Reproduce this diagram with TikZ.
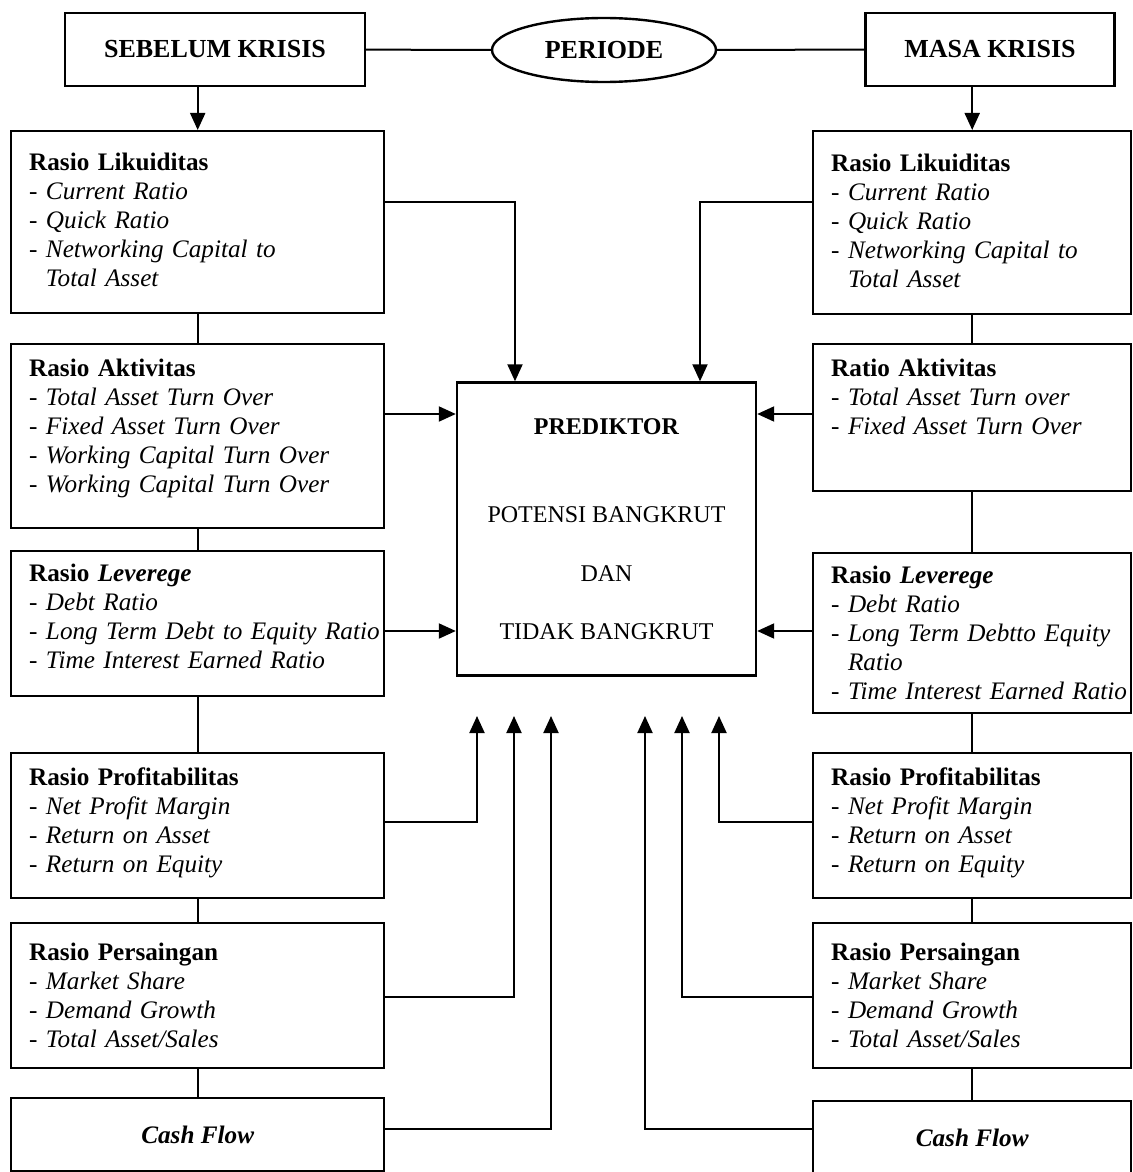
\documentclass[tikz,border=0pt,12pt]{standalone}
\usepackage{fontspec}
\setmainfont{Liberation Serif}
\usetikzlibrary{arrows.meta, positioning, shapes.geometric}
\newcommand{\itm}[1]{\mbox{- \textit{#1}}}
\newcommand{\lnj}[1]{\mbox{\phantom{- }\textit{#1}}}

\begin{document}
\begin{tikzpicture}[x=0.5pt, y=-0.5pt, line width=1pt,
    head/.style={draw, line width=1.2pt, rectangle, minimum height=36.5pt, font=\fontsize{13}{15}\selectfont\bfseries},
    peri/.style={draw, line width=1.2pt, ellipse, minimum width=112pt, minimum height=32pt, inner sep=0pt, font=\fontsize{13}{15}\selectfont\bfseries},
    ratio/.style={draw, line width=1.2pt, rectangle, anchor=north west, align=left, inner xsep=9pt, inner ysep=0pt, text height=16pt, text depth=#1, font=\fontsize{12.6}{14.5}\selectfont},
    kiri/.style={ratio=#1, text width=168.5pt},
    kanan/.style={ratio=#1, text width=141pt},
    cash/.style={draw, line width=1.2pt, rectangle, anchor=north west, minimum height=36.5pt, font=\fontsize{12.6}{14.5}\selectfont\bfseries\itshape},
    arrow/.style={-{Triangle[length=8.5pt, width=7.5pt]}}
]
\useasboundingbox (0,0) rectangle (1132,1172);
% 1. Periode
\node[head, minimum width=150pt] (sebl) at (215,49.5) {SEBELUM KRISIS};
\node[peri] (peri) at (604,50) {PERIODE};
\node[head, minimum width=124.5pt] (masa) at (990,49.5) {MASA KRISIS};
% 2. Left column (sebelum krisis)
\node[kiri=71.5pt, text height=19.5pt] (lLik) at (10,130) {\textbf{Rasio Likuiditas}\\ \itm{Current Ratio}\\ \itm{Quick Ratio}\\ \itm{Networking Capital to}\\ \lnj{Total Asset}};
\node[kiri=76pt] (lAkt) at (10,343) {\textbf{Rasio Aktivitas}\\ \itm{Total Asset Turn Over}\\ \itm{Fixed Asset Turn Over}\\ \itm{Working Capital Turn Over}\\ \itm{Working Capital Turn Over}};
\node[kiri=57.5pt, text height=15pt] (lLev) at (10,550) {\textbf{Rasio \textit{Leverege}}\\ \itm{Debt Ratio}\\ \itm{Long Term Debt to Equity Ratio}\\ \itm{Time Interest Earned Ratio}};
\node[kiri=56.5pt] (lPro) at (10,752) {\textbf{Rasio Profitabilitas}\\ \itm{Net Profit Margin}\\ \itm{Return on Asset}\\ \itm{Return on Equity}};
\node[kiri=54pt, text height=18.5pt] (lPer) at (10,922) {\textbf{Rasio Persaingan}\\ \itm{Market Share}\\ \itm{Demand Growth}\\ \itm{Total Asset/Sales}};
\node[cash, minimum width=186.5pt] (lCas) at (10,1097) {Cash Flow};
% 3. Right column (masa krisis)
\node[kanan=71.5pt, text height=20pt] (rLik) at (812,130) {\textbf{Rasio Likuiditas}\\ \itm{Current Ratio}\\ \itm{Quick Ratio}\\ \itm{Networking Capital to}\\ \lnj{Total Asset}};
\node[kanan=57.5pt] (rAkt) at (812,343) {\textbf{Ratio Aktivitas}\\ \itm{Total Asset Turn over}\\ \itm{Fixed Asset Turn Over}};
\node[kanan=65pt, text height=15pt] (rLev) at (812,552) {\textbf{Rasio \textit{Leverege}}\\ \itm{Debt Ratio}\\ \itm{Long Term Debtto Equity}\\ \lnj{Ratio}\\ \itm{Time Interest Earned Ratio}};
\node[kanan=56.5pt] (rPro) at (812,752) {\textbf{Rasio Profitabilitas}\\ \itm{Net Profit Margin}\\ \itm{Return on Asset}\\ \itm{Return on Equity}};
\node[kanan=54pt, text height=18.5pt] (rPer) at (812,922) {\textbf{Rasio Persaingan}\\ \itm{Market Share}\\ \itm{Demand Growth}\\ \itm{Total Asset/Sales}};
\node[cash, minimum width=159pt] (rCas) at (812,1100) {Cash Flow};
% 4. Prediktor
\node[draw, line width=1.2pt, rectangle, align=center, minimum width=149.5pt, minimum height=146.5pt] (pred) at (606.5,529) {\textbf{PREDIKTOR}\\[29.5pt] POTENSI BANGKRUT\\[15pt] DAN\\[14.5pt] TIDAK BANGKRUT};
% bends and arrow tips
\coordinate (jL1) at (515,202);
\coordinate (jR1) at (700,202);
\coordinate (yAkt) at (0,414);
\coordinate (yLev) at (0,631);
\coordinate (yPro) at (0,822);
\coordinate (yPer) at (0,997);
\coordinate (yCas) at (0,1129);
\coordinate (t1) at (477,716);
\coordinate (t2) at (514,716);
\coordinate (t3) at (551,716);
\coordinate (t4) at (645,716);
\coordinate (t5) at (682,716);
\coordinate (t6) at (719,716);
% --- Arrows / Connections ---
\draw (sebl) -- (peri);
\draw (peri) -- (masa);
\draw[arrow] (sebl.south -| lLik.north) -- (lLik.north);
\draw[arrow] (masa.south -| rLik.north) -- (rLik.north);
% columns
\draw (lLik) -- (lAkt);
\draw (lAkt) -- (lLev);
\draw (lLev) -- (lPro);
\draw (lPro) -- (lPer);
\draw (lPer) -- (lCas);
\draw (rLik) -- (rAkt);
\draw (rAkt) -- (rLev);
\draw (rLev) -- (rPro);
\draw (rPro) -- (rPer);
\draw (rPer) -- (rCas);
% into the predictor
\draw[arrow] (lLik.east |- jL1) -| (pred.north -| jL1);
\draw[arrow] (rLik.west |- jR1) -| (pred.north -| jR1);
\draw[arrow] (lAkt.east |- yAkt) -- (pred.west |- yAkt);
\draw[arrow] (rAkt.west |- yAkt) -- (pred.east |- yAkt);
\draw[arrow] (lLev.east |- yLev) -- (pred.west |- yLev);
\draw[arrow] (rLev.west |- yLev) -- (pred.east |- yLev);
\draw[arrow] (lPro.east |- yPro) -| (t1);
\draw[arrow] (lPer.east |- yPer) -| (t2);
\draw[arrow] (lCas.east |- yCas) -| (t3);
\draw[arrow] (rCas.west |- yCas) -| (t4);
\draw[arrow] (rPer.west |- yPer) -| (t5);
\draw[arrow] (rPro.west |- yPro) -| (t6);
\end{tikzpicture}
\end{document}
